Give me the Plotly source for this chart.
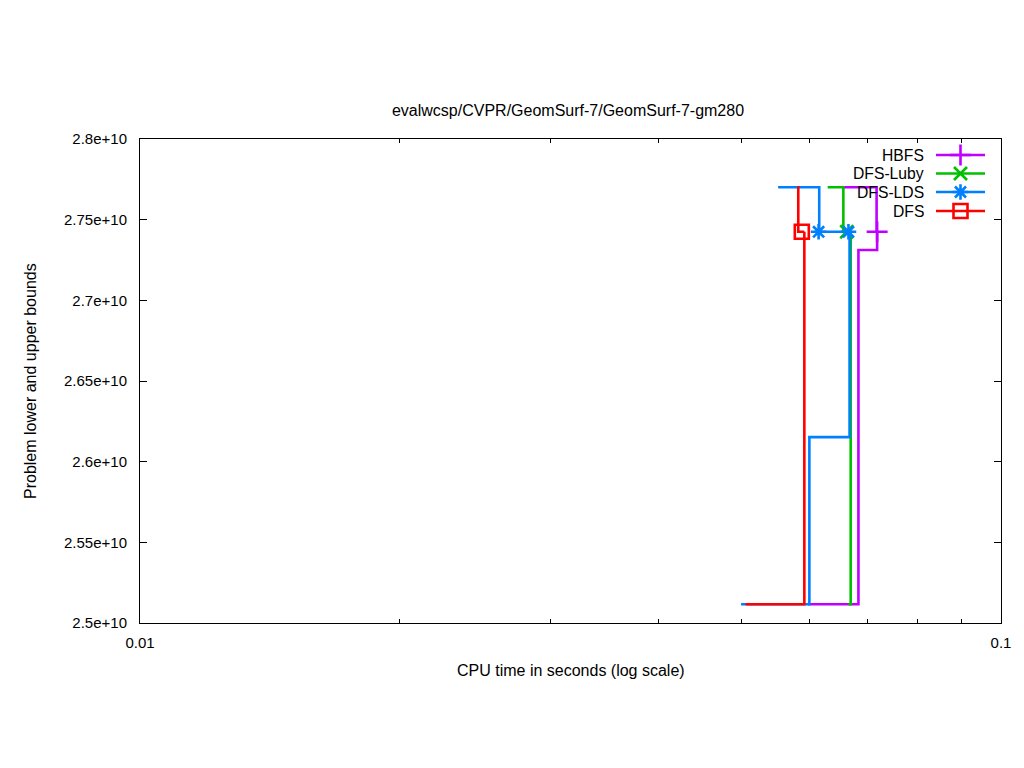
import plotly.graph_objects as go

# ---------------- data ----------------
TITLE = "evalwcsp/CVPR/GeomSurf-7/GeomSurf-7-gm280"
solvers = ["HBFS", "DFS-Luby", "DFS-LDS", "DFS"]
colors = {"HBFS": "#c000ff", "DFS-Luby": "#00c000", "DFS-LDS": "#0080ff", "DFS": "#ff0000"}
symbols = {"HBFS": "cross-thin-open", "DFS-Luby": "x-thin-open",
           "DFS-LDS": "asterisk-open", "DFS": "square-open"}
msizes = {"HBFS": 15, "DFS-Luby": 13, "DFS-LDS": 13, "DFS": 14}

# upper bounds (time s, value)
hbfs_ub_t = [0.0655, 0.0717]
hbfs_ub_v = [2.7701e10, 2.7425e10]
luby_ub_t = [0.0629, 0.0656, 0.0669]
luby_ub_v = [2.7701e10, 2.7425e10, 2.7425e10]
lds_ub_t = [0.0551, 0.0615, 0.0667]
lds_ub_v = [2.7701e10, 2.7425e10, 2.7425e10]
dfs_ub_t = [0.0580, 0.05815, 0.0591]
dfs_ub_v = [2.7701e10, 2.7425e10, 2.7425e10]

# lower bounds
hbfs_lb_t = [0.0597, 0.0683, 0.0718]
hbfs_lb_v = [2.5116e10, 2.7312e10, 2.7425e10]
luby_lb_t = [0.0665, 0.0669]
luby_lb_v = [2.5116e10, 2.7425e10]
lds_lb_t = [0.0499, 0.0599, 0.0667]
lds_lb_v = [2.5116e10, 2.6152e10, 2.7425e10]
dfs_lb_t = [0.0505, 0.0591]
dfs_lb_v = [2.5116e10, 2.7425e10]

# solution points
hbfs_pt_t = [0.0718]
luby_pt_t = [0.0662]
lds_pt_t = [0.0614, 0.0665]
dfs_pt_t = [0.0587]
opt_value = 2.7425e10

y_ticks = [2.5e10, 2.55e10, 2.6e10, 2.65e10, 2.7e10, 2.75e10, 2.8e10]
y_ticklabels = ["2.5e+10", "2.55e+10", "2.6e+10", "2.65e+10", "2.7e+10", "2.75e+10", "2.8e+10"]
x_ticks = [0.01, 0.1]
x_ticklabels = ["0.01", "0.1"]
x_minor = [0.02, 0.03, 0.04, 0.05, 0.06, 0.07, 0.08, 0.09]

series = {
    "HBFS": (hbfs_ub_t, hbfs_ub_v, hbfs_lb_t, hbfs_lb_v, hbfs_pt_t),
    "DFS-Luby": (luby_ub_t, luby_ub_v, luby_lb_t, luby_lb_v, luby_pt_t),
    "DFS-LDS": (lds_ub_t, lds_ub_v, lds_lb_t, lds_lb_v, lds_pt_t),
    "DFS": (dfs_ub_t, dfs_ub_v, dfs_lb_t, dfs_lb_v, dfs_pt_t),
}

FONT = "Liberation Sans, Arial, sans-serif"
FS = 15
FS_TXT = 16
FS_KEY = 15.7
LW = 2.6

fig = go.Figure()
for name in solvers:
    ub_t, ub_v, lb_t, lb_v, pt_t = series[name]
    c = colors[name]
    fig.add_trace(go.Scatter(x=ub_t, y=ub_v, mode="lines", line=dict(color=c, width=LW, shape="hv"),
                             showlegend=False, hoverinfo="skip"))
    fig.add_trace(go.Scatter(x=lb_t, y=lb_v, mode="lines", line=dict(color=c, width=LW, shape="hv"),
                             showlegend=False, hoverinfo="skip"))
    fig.add_trace(go.Scatter(x=pt_t, y=[opt_value] * len(pt_t), mode="markers",
                             marker=dict(symbol=symbols[name], size=msizes[name], color=c,
                                         line=dict(color=c, width=2.6)),
                             showlegend=False, hoverinfo="skip"))

# ---- manual gnuplot-style key (text left of sample) on an overlay pixel axis ----
key_y = [155, 173.5, 192, 211]
for name, ky in zip(solvers, key_y):
    c = colors[name]
    fig.add_trace(go.Scatter(x=[936, 985], y=[ky, ky], xaxis="x2", yaxis="y2", mode="lines",
                             line=dict(color=c, width=LW), showlegend=False, hoverinfo="skip"))
    fig.add_trace(go.Scatter(x=[960.5], y=[ky], xaxis="x2", yaxis="y2", mode="markers",
                             marker=dict(symbol=symbols[name], size=msizes[name], color=c,
                                         line=dict(color=c, width=2.6)),
                             showlegend=False, hoverinfo="skip"))
    fig.add_annotation(x=926, y=ky, xref="x2", yref="y2", text=name, showarrow=False,
                       xanchor="right", yanchor="middle", font=dict(family=FONT, size=FS_KEY, color="black"))

axis_common = dict(showline=True, linecolor="black", linewidth=1, mirror="allticks",
                   ticks="inside", tickcolor="black", showgrid=False, zeroline=False,
                   tickfont=dict(family=FONT, size=FS, color="black"))

fig.update_layout(
    width=1024, height=768,
    margin=dict(l=140, r=23, t=139, b=145),
    paper_bgcolor="white", plot_bgcolor="white",
    showlegend=False,
    title=dict(text=TITLE, x=568 / 1024, xanchor="center", y=1 - 110 / 768, yanchor="middle",
               font=dict(family=FONT, size=FS_TXT, color="black")),
    xaxis=dict(type="log", range=[-2, -1], tickvals=x_ticks, ticktext=x_ticklabels, ticklen=8,
               ticklabelstandoff=6,
               minor=dict(tickvals=x_minor, ticks="inside", ticklen=4, tickcolor="black"),
               **axis_common),
    yaxis=dict(range=[2.5e10, 2.8e10], tickvals=y_ticks, ticktext=y_ticklabels, ticklen=7,
               ticklabelstandoff=9, **axis_common),
    xaxis2=dict(range=[140, 1001], overlaying="x", anchor="y2", visible=False),
    yaxis2=dict(range=[623, 139], overlaying="y", anchor="x2", visible=False),
)

fig.add_annotation(text="CPU time in seconds (log scale)", xref="paper", yref="paper",
                   x=0.5, y=0, yshift=-47, showarrow=False, yanchor="middle",
                   font=dict(family=FONT, size=FS_TXT, color="black"))
fig.add_annotation(text="Problem lower and upper bounds", xref="paper", yref="paper",
                   x=0, y=0.5, xshift=-110, showarrow=False, textangle=-90, xanchor="center",
                   font=dict(family=FONT, size=FS_TXT, color="black"))

fig.write_html("out.html", config={"displayModeBar": False},
               post_script="document.body.style.margin='0';document.body.style.overflow='hidden';")
